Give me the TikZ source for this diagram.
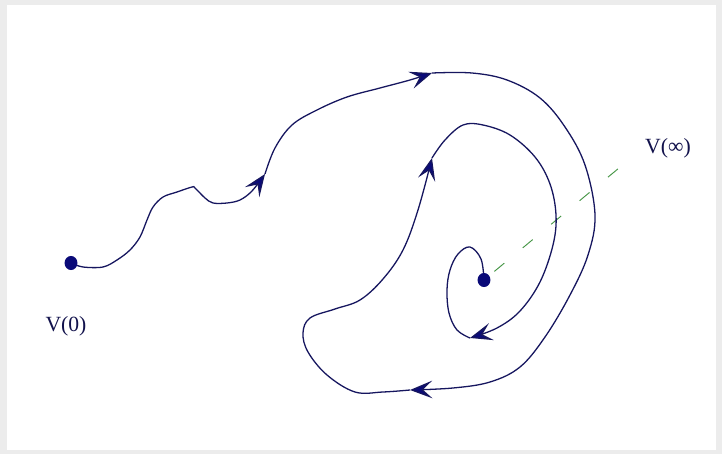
\documentclass[tikz,border=0pt]{standalone}
\usepackage{fontspec}
\setmainfont{Liberation Serif}
\usepackage{xcolor}
\usepackage{tikz}
\usetikzlibrary{arrows.meta}

\definecolor{trajblue}{RGB}{22,22,95}
\definecolor{dotblue}{RGB}{10,10,120}
\definecolor{rayGreen}{RGB}{70,150,70}
\definecolor{framegray}{RGB}{236,236,236}

\begin{document}
\begin{tikzpicture}[x=0.03cm, y=-0.03cm]
    \tikzstyle{traj} = [draw=trajblue, line width=1.1pt, -{Stealth[length=19pt, width=15pt, inset=8pt, fill=dotblue]}]
    \tikzstyle{trajend} = [draw=trajblue, line width=1.1pt]
    \tikzstyle{ray} = [draw=rayGreen, line width=0.8pt, dash pattern=on 11pt off 20.5pt, dash phase=20pt]
    \tikzstyle{state} = [fill=dotblue]
    \tikzstyle{label} = [font=\fontsize{18.5}{21}\selectfont, text=trajblue!80!black, inner sep=0pt]

    % frame
    \fill[framegray] (0,0) rectangle (722,454);
    \fill[white] (7,5) rectangle (716,450);
    \useasboundingbox (0,0) rectangle (722,454);

    \coordinate (v0) at (71,263);
    \coordinate (vinf) at (484,280);
    \coordinate (a1) at (265,174);
    \coordinate (a2) at (432,73);
    \coordinate (a3) at (410,390);
    \coordinate (a4) at (432,158);
    \coordinate (a5) at (470,338);
    \coordinate (rayend) at (619,168);

    \node[label] (lbl0) at (66,326) {V(0)};
    \node[label] (lblinf) at (668,148) {V(∞)};

    % ray towards infinity
    \path[ray] (vinf) -- (rayend);

    % trajectory
    \path[traj] plot[smooth, tension=0.55] coordinates {(v0) (83,267) (103,267) (117,260) (130,250) (140,237) (147,220) (153,207) (163,197) (177,192) (192,187) (195,188) (205,198) (213,203) (227,203) (240,200) (252,191) (a1)};
    \path[traj] plot[smooth, tension=0.6] coordinates {(a1) (275,148) (292,125) (317,110) (347,97) (380,88) (410,80) (a2)};
    \path[traj] plot[smooth, tension=0.6] coordinates {(a2) (472,73) (507,80) (540,98) (565,127) (585,165) (595,215) (588,255) (570,295) (545,337) (520,367) (490,382) (453,388) (a3)};
    \path[traj] plot[smooth, tension=0.6] coordinates {(a3) (383,392) (355,392) (327,375) (308,352) (303,333) (310,318) (335,309) (360,300) (383,279) (403,250) (418,210) (a4)};
    \path[traj] plot[smooth, tension=0.6] coordinates {(a4) (445,140) (463,125) (483,125) (510,135) (535,157) (550,184) (556,215) (553,245) (540,282) (520,311) (497,328) (a5)};
    \path[trajend] plot[smooth, tension=0.6] coordinates {(a5) (457,330) (449,313) (447,290) (450,270) (458,254) (470,247) (481,259) (vinf)};

    \fill[state] (v0) circle[x radius=5.5pt, y radius=6pt];
    \fill[state] (vinf) circle[x radius=5.5pt, y radius=6pt];
\end{tikzpicture}
\end{document}
